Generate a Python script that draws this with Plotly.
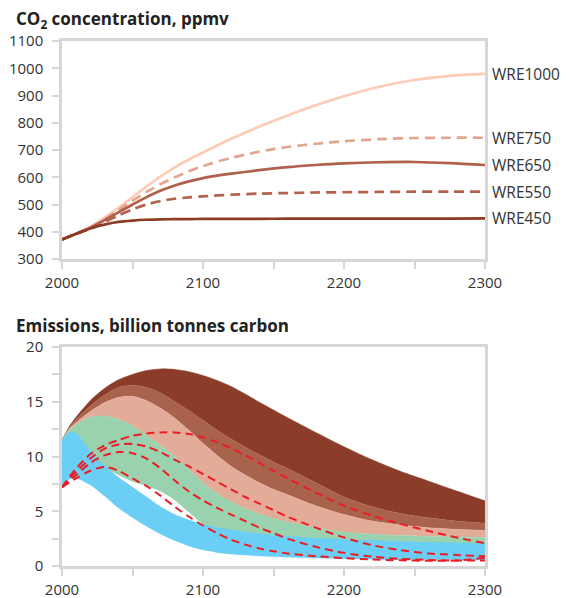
import plotly.graph_objects as go
from plotly.subplots import make_subplots

# ---------------- data: CO2 concentration (ppmv) ----------------
top_years = [2000, 2010, 2020, 2030, 2040, 2050, 2060, 2070, 2080, 2090, 2100,
             2120, 2140, 2160, 2180, 2200, 2225, 2250, 2275, 2300]
wre1000 = [372, 393, 419, 451, 488, 527, 566, 603, 636, 665, 691,
           741, 786, 827, 864, 897, 932, 957, 972, 979]
wre750 = [372, 393, 416, 445, 480, 514, 546, 575, 600, 622, 641,
          671, 694, 711, 723, 732, 740, 744, 745, 745]
wre650 = [372, 393, 414, 442, 471, 500, 527, 551, 570, 585, 597,
          613, 626, 637, 645, 651, 655, 656, 652, 645]
wre550 = [372, 392, 411, 435, 460, 482, 500, 513, 521, 526, 530,
          536, 540, 542, 544, 545, 546, 547, 547, 547]
wre450 = [372, 393, 412, 426, 436, 441, 444, 445.5, 446, 446.5, 447,
          447, 447.5, 448, 448, 448, 448, 448.5, 448.5, 449]
scenario_names = ["WRE1000", "WRE750", "WRE650", "WRE550", "WRE450"]

# ---------------- data: emissions (GtC) ----------------
band_years = [2000, 2005, 2010, 2020, 2030, 2040, 2050, 2060, 2070, 2080, 2090,
              2100, 2110, 2120, 2130, 2140, 2150, 2160, 2180, 2200, 2220, 2240,
              2260, 2280, 2300]
dark_top = [11.5, 12.7, 13.6, 15.1, 16.2, 17.0, 17.5, 17.85, 18.0, 17.95, 17.75,
            17.4, 16.95, 16.4, 15.7, 14.95, 14.25, 13.55, 12.2, 10.9, 9.7, 8.65,
            7.75, 6.85, 5.95]
medium_top = [11.5, 12.6, 13.4, 14.6, 15.6, 16.3, 16.5, 16.3, 15.8, 15.0, 14.2,
              13.3, 12.4, 11.6, 10.85, 10.15, 9.5, 8.9, 7.6, 6.3, 5.4, 4.8,
              4.4, 4.1, 3.9]
salmon_top = [11.5, 12.5, 13.1, 14.1, 14.9, 15.4, 15.5, 15.1, 14.4, 13.5, 12.4,
              11.2, 10.1, 9.1, 8.3, 7.6, 7.0, 6.5, 5.5, 4.7, 4.1, 3.75,
              3.5, 3.35, 3.25]
green_top = [11.5, 12.4, 12.9, 13.6, 13.7, 13.4, 12.8, 11.9, 11.0, 10.0, 8.8,
             7.6, 6.6, 5.85, 5.25, 4.75, 4.35, 4.0, 3.5, 3.1, 2.9, 2.78,
             2.7, 2.64, 2.6]
green_bottom = [10.5, 11.0, 10.8, 9.9, 9.0, 8.3, 7.7, 7.3, 6.8, 6.0, 4.9,
                3.8, 3.2, 3.0, 2.8, 2.65, 2.55, 2.45, 2.3, 2.2, 2.1, 2.0,
                1.95, 1.9, 1.9]
blue_top = [11.5, 12.2, 12.1, 10.5, 9.2, 8.1, 7.2, 6.3, 5.4, 4.7, 4.2,
            3.8, 3.5, 3.3, 3.1, 2.95, 2.82, 2.72, 2.55, 2.42, 2.32, 2.24,
            2.16, 2.1, 2.07]
blue_bottom = [7.3, 7.9, 8.0, 7.4, 6.4, 5.3, 4.4, 3.6, 2.9, 2.3, 1.8,
               1.45, 1.22, 1.08, 0.98, 0.9, 0.85, 0.8, 0.7, 0.63, 0.6, 0.57,
               0.56, 0.55, 0.55]

line_years = [2000, 2010, 2020, 2030, 2040, 2050, 2060, 2070, 2080, 2090, 2100,
              2110, 2120, 2130, 2140, 2150, 2160, 2180, 2200, 2220, 2240, 2260,
              2280, 2300]
path1 = [7.2, 8.9, 10.2, 11.0, 11.5, 11.9, 12.1, 12.2, 12.2, 12.05, 11.75,
         11.3, 10.75, 10.1, 9.4, 8.7, 8.0, 6.7, 5.5, 4.6, 3.85, 3.2, 2.6, 2.07]
path2 = [7.2, 8.6, 9.8, 10.7, 11.1, 11.15, 10.9, 10.4, 9.7, 9.1, 8.4,
         7.7, 7.0, 6.3, 5.7, 5.1, 4.5, 3.5, 2.6, 1.9, 1.45, 1.15, 1.0, 0.9]
path3 = [7.2, 8.3, 9.4, 10.1, 10.4, 10.3, 9.8, 8.9, 7.8, 6.8, 6.0,
         5.3, 4.7, 4.1, 3.5, 3.0, 2.5, 1.75, 1.2, 0.85, 0.65, 0.55, 0.5, 0.5]
path4 = [7.2, 8.0, 8.7, 9.05, 8.7, 8.0, 7.3, 6.4, 5.4, 4.5, 3.7,
         3.0, 2.4, 1.95, 1.6, 1.35, 1.15, 0.9, 0.72, 0.6, 0.52, 0.48, 0.5, 0.75]

x_major = [2000, 2100, 2200, 2300]
x_minor = [2050, 2150, 2250]
top_yticks = [300, 400, 500, 600, 700, 800, 900, 1000, 1100]
bot_yticks = [0, 5, 10, 15, 20]
bot_yminor = [2.5, 7.5, 12.5, 17.5]

# ---------------- styles ----------------
FONT = "Open Sans"
AXIS_GREY = "#d6d6d6"
TEXT = "#333333"
TICK_LEN = 7

fig = make_subplots(rows=2, cols=1, vertical_spacing=0.0)

top_series = [wre1000, wre750, wre650, wre550, wre450]
top_colors = ["#fdcbb6", "#e3a58f", "#b0604b", "#b3624d", "#8e3b25"]
top_dash = ["solid", "10px,6px", "solid", "10px,6px", "solid"]
for name, vals, col, dsh in zip(scenario_names, top_series, top_colors, top_dash):
    fig.add_trace(go.Scatter(x=top_years, y=vals, mode="lines", name=name,
                             line=dict(color=col, width=2.7, dash=dsh, shape="spline", smoothing=0.8),
                             showlegend=False, hoverinfo="skip"), row=1, col=1)
    fig.add_annotation(x=2300, y=vals[-1], xref="x", yref="y", text=name,
                       showarrow=False, xanchor="left", yanchor="middle", xshift=5,
                       font=dict(family=FONT, size=15.5, color=TEXT))

bands = [
    (dark_top, medium_top, "#8b3d29"),
    (medium_top, salmon_top, "#a9624c"),
    (salmon_top, green_top, "#e3ac98"),
    (green_top, green_bottom, "#9ad1af"),
    (blue_top, blue_bottom, "#6acef5"),
]
for top, bottom, col in bands:
    fig.add_trace(go.Scatter(x=band_years, y=bottom, mode="lines",
                             line=dict(width=0, color=col, shape="spline", smoothing=0.8),
                             showlegend=False, hoverinfo="skip"), row=2, col=1)
    fig.add_trace(go.Scatter(x=band_years, y=top, mode="lines", fill="tonexty",
                             fillcolor=col,
                             line=dict(width=0.5, color=col, shape="spline", smoothing=0.8),
                             showlegend=False, hoverinfo="skip"), row=2, col=1)

for path in [path1, path2, path3, path4]:
    fig.add_trace(go.Scatter(x=line_years, y=path, mode="lines",
                             line=dict(color="#ed1c24", width=2, dash="8px,5px",
                                       shape="spline", smoothing=0.8),
                             showlegend=False, hoverinfo="skip"), row=2, col=1)

axis_common = dict(showline=True, linecolor=AXIS_GREY, linewidth=2.5, mirror=True,
                   ticks="outside", ticklen=TICK_LEN, tickwidth=2, tickcolor=AXIS_GREY,
                   showgrid=False, zeroline=False, automargin=False,
                   tickfont=dict(family=FONT, size=15, color=TEXT))
minor_style = dict(ticks="outside", ticklen=TICK_LEN, tickwidth=2, tickcolor=AXIS_GREY,
                   showgrid=False)

top_dom = [(566 - 259) / 525, 1.0]
bot_dom = [0.0, (566 - 347) / 525]

fig.update_xaxes(range=[2000, 2300], tickvals=x_major,
                 minor=dict(tickvals=x_minor, **minor_style),
                 ticklabelstandoff=1, **axis_common)
fig.update_yaxes(ticklabelstandoff=6, **axis_common)
fig.update_layout(
    xaxis=dict(anchor="y"), xaxis2=dict(anchor="y2"),
    yaxis=dict(domain=top_dom, range=[300, 1100], tickvals=top_yticks),
    yaxis2=dict(domain=bot_dom, range=[0, 20], tickvals=bot_yticks,
                minor=dict(tickvals=bot_yminor, **minor_style)),
)

title_x = (6 - 54) / 423
fig.add_annotation(x=title_x, y=(566 - 20) / 525, xref="paper", yref="paper",
                   text="<b>CO<sub>2</sub> concentration, ppmv</b>", showarrow=False,
                   xanchor="left", yanchor="middle",
                   font=dict(family=FONT, size=17, color="#222222"))
fig.add_annotation(x=title_x, y=(566 - 325) / 525, xref="paper", yref="paper",
                   text="<b>Emissions, billion tonnes carbon</b>", showarrow=False,
                   xanchor="left", yanchor="middle",
                   font=dict(family=FONT, size=17, color="#222222"))

# page body adds an 8px margin, so the figure is drawn 8px smaller
fig.update_layout(width=562, height=590, margin=dict(l=54, r=85, t=33, b=32),
                  plot_bgcolor="white", paper_bgcolor="white",
                  font=dict(family=FONT, color=TEXT))

fig.write_html("out.html")
